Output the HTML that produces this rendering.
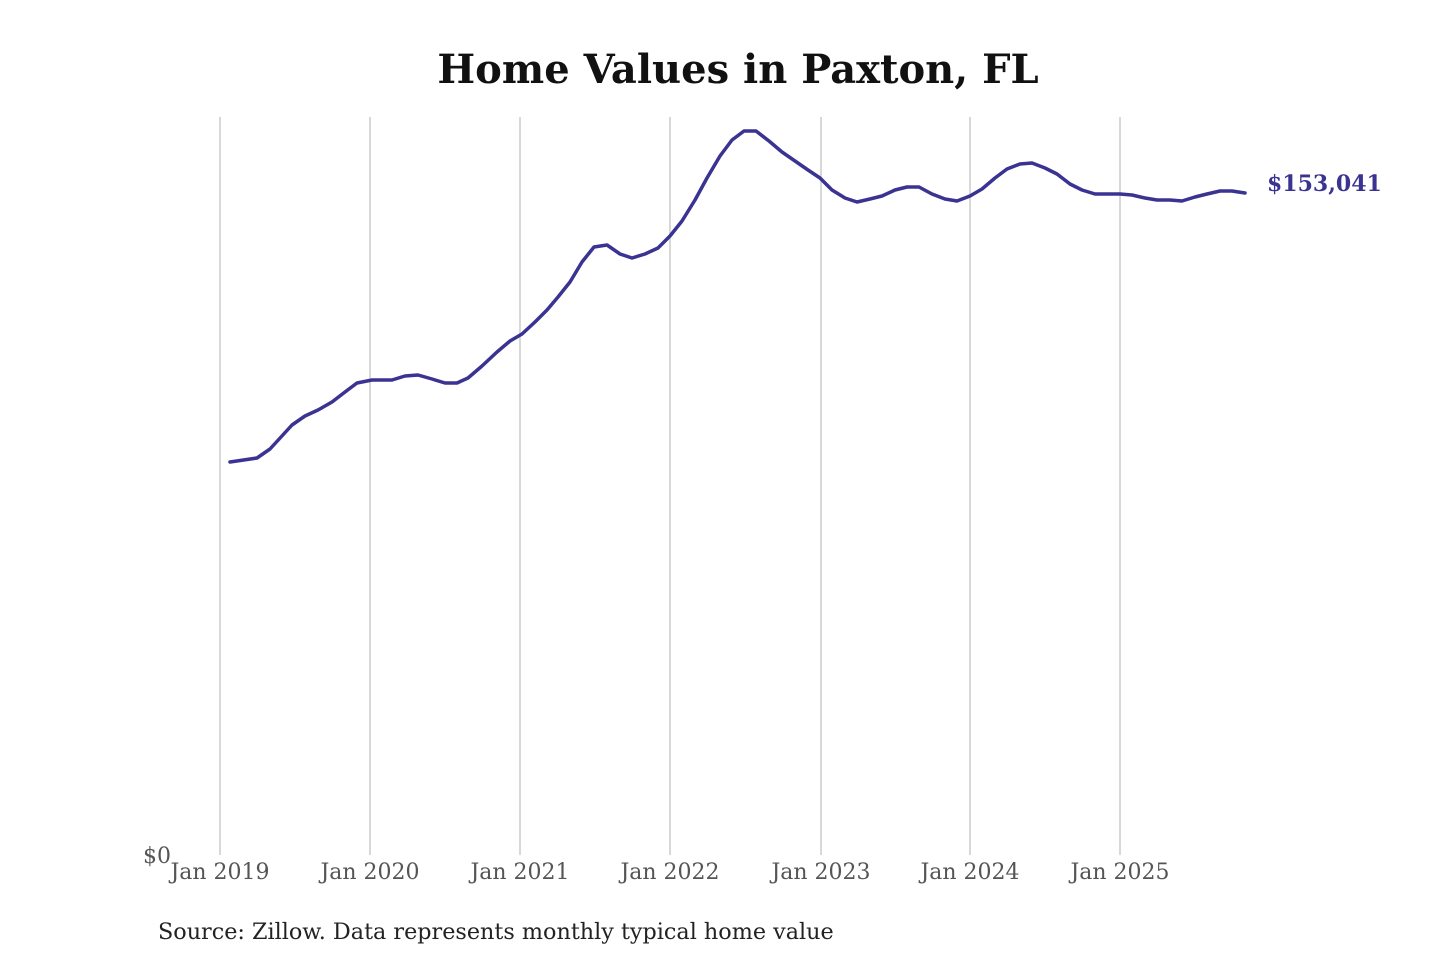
<!DOCTYPE html>
<html><head><meta charset="utf-8"><style>
body{margin:0;background:#fff;width:1440px;height:960px;overflow:hidden}
</style></head><body>
<svg width="1440" height="960" xmlns="http://www.w3.org/2000/svg" font-family="'DejaVu Serif','Liberation Serif',serif">
<text x="738" y="83" text-anchor="middle" font-size="40" font-weight="bold" fill="#111">Home Values in Paxton, FL</text>
<g stroke="#c4c4c4" stroke-width="1.3">
<line x1="220" y1="117" x2="220" y2="855"/><line x1="370" y1="117" x2="370" y2="855"/>
<line x1="520" y1="117" x2="520" y2="855"/><line x1="670" y1="117" x2="670" y2="855"/>
<line x1="821" y1="117" x2="821" y2="855"/><line x1="970" y1="117" x2="970" y2="855"/>
<line x1="1120" y1="117" x2="1120" y2="855"/>
</g>
<g font-size="22" fill="#555" text-anchor="middle">
<text x="220" y="879">Jan 2019</text><text x="370" y="879">Jan 2020</text>
<text x="520" y="879">Jan 2021</text><text x="670" y="879">Jan 2022</text>
<text x="821" y="879">Jan 2023</text><text x="970" y="879">Jan 2024</text>
<text x="1120" y="879">Jan 2025</text>
<text x="157" y="863">$0</text>
</g>
<polyline fill="none" stroke="#3a3392" stroke-width="3.5" stroke-linejoin="round" stroke-linecap="round" points="230,462 257,458 270,449 292,425 305,416 318,410 332,402 345,392 357,383 372,380 392,380 405,376 418,375 432,379 445,383 457,383 468,378 482,366 497,352 510,341 522,334 535,322 547,310 558,297 570,282 582,262 594,247 607,245 620,254 632,258 645,254 658,248 670,236 682,221 695,200 707,178 720,156 732,140 744,131 756,131 769,141 782,152 795,161 808,170 820,178 832,190 845,198 857,202 870,199 882,196 895,190 907,187 919,187 932,194 945,199 957,201 970,196 982,189 995,178 1007,169 1020,164 1032,163 1045,168 1057,174 1070,184 1082,190 1095,194 1107,194 1120,194 1132,195 1145,198 1157,200 1170,200 1182,201 1195,197 1207,194 1220,191 1232,191 1245,193"/>
<text x="1267" y="191" font-size="22" font-weight="bold" fill="#3a3392">$153,041</text>
<text x="158" y="939" font-size="22.3" fill="#222">Source: Zillow. Data represents monthly typical home value</text>
</svg>
</body></html>
